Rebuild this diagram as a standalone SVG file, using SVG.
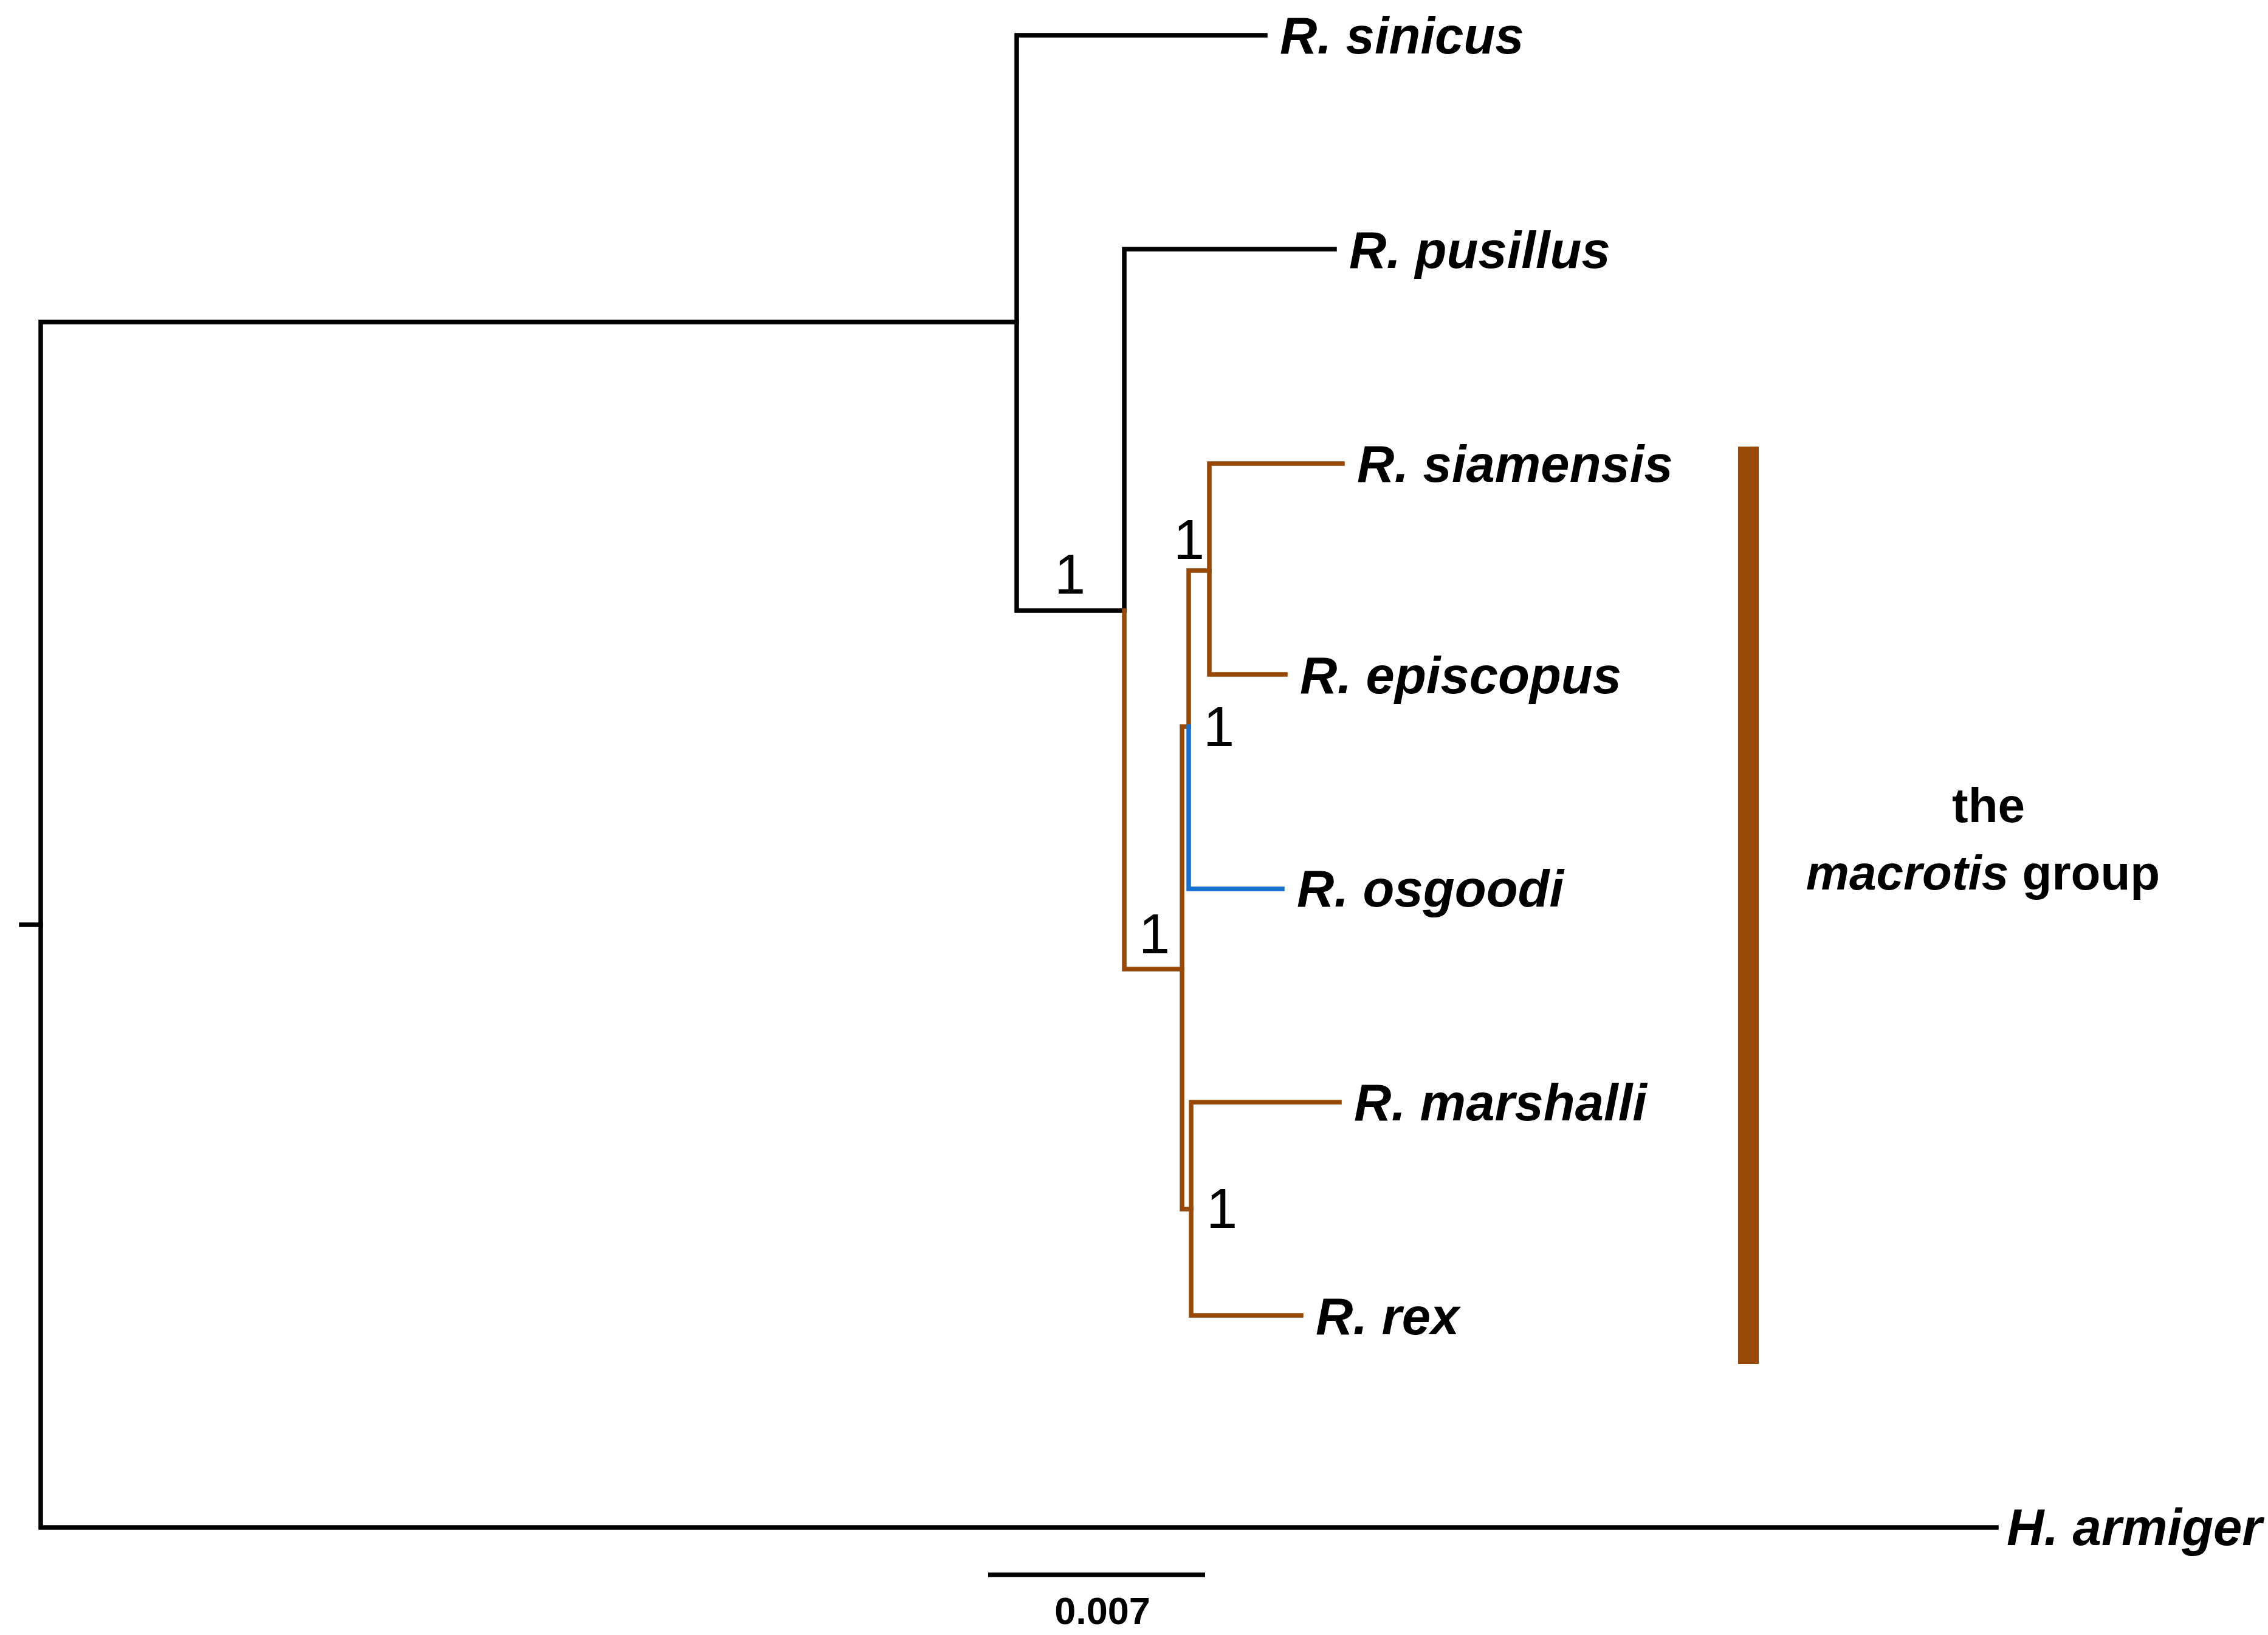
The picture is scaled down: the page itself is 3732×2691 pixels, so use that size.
<svg xmlns="http://www.w3.org/2000/svg" width="3732" height="2691" viewBox="0 0 3732 2691">
<style>
.b{fill:none;stroke:#000;stroke-width:7.5;stroke-linecap:square;stroke-linejoin:miter}
.br{fill:none;stroke:#984807;stroke-width:7.5;stroke-linecap:square;stroke-linejoin:miter}
.bl{fill:none;stroke:#1670CF;stroke-width:7.5;stroke-linecap:square;stroke-linejoin:miter}
.sp{font-family:"Liberation Sans",Arial,sans-serif;font-weight:bold;font-style:italic;font-size:85px;fill:#000}
.sup{font-family:"Liberation Sans",Arial,sans-serif;font-size:92px;fill:#000}
.grp{font-family:"Liberation Sans",Arial,sans-serif;font-weight:bold;font-size:80px;fill:#000}
</style>
<rect x="0" y="0" width="3732" height="2691" fill="#fff"/>
<g id="connectors">
<path class="b" d="M35,1522 H67"/>
<path class="b" d="M1673,530 H67 V2514 H3285"/>
<path class="b" d="M2082,58 H1673 V1005 H1850"/>
<path class="b" d="M2196,410 H1850 V1005"/>
<path class="br" d="M1850,1005 V1595 H1945"/>
<path class="br" d="M1956,1196 H1945 V1990 H1960"/>
<path class="br" d="M1956,1196 V939 H1990"/>
<path class="bl" d="M1956,1196 V1463 H2110"/>
<path class="br" d="M2209,763 H1990 V1110 H2115"/>
<path class="br" d="M2204,1814 H1960 V2165 H2141"/>
</g>
<g id="node-sinicus"><text class="sp" x="2106" y="88">R. sinicus</text></g>
<g id="node-pusillus"><text class="sp" x="2220" y="441">R. pusillus</text></g>
<g id="node-siamensis"><text class="sp" x="2233" y="793">R. siamensis</text></g>
<g id="node-episcopus"><text class="sp" x="2139" y="1141">R. episcopus</text></g>
<g id="node-osgoodi"><text class="sp" x="2134" y="1492">R. osgoodi</text></g>
<g id="node-marshalli"><text class="sp" x="2228" y="1844">R. marshalli</text></g>
<g id="node-rex"><text class="sp" x="2165" y="2196">R. rex</text></g>
<g id="node-armiger"><text class="sp" x="3302" y="2543">H. armiger</text></g>
<g id="support">
<text class="sup" x="1735" y="977">1</text>
<text class="sup" x="1931" y="920">1</text>
<text class="sup" x="1980" y="1228">1</text>
<text class="sup" x="1874" y="1569">1</text>
<text class="sup" x="1985" y="2021">1</text>
</g>
<g id="macrotis-group">
<rect x="2860" y="735" width="34" height="1510" fill="#984807"/>
<text class="grp" x="3272" y="1353" text-anchor="middle">the</text>
<text class="grp" x="3263" y="1464" text-anchor="middle"><tspan font-style="italic">macrotis</tspan> group</text>
</g>
<g id="scale-bar">
<path d="M1626,2592 H1983" stroke="#000" stroke-width="7.5" fill="none"/>
<text x="1814" y="2673" text-anchor="middle" font-family="Liberation Sans, Arial, sans-serif" font-weight="bold" font-size="63">0.007</text>
</g>
</svg>
